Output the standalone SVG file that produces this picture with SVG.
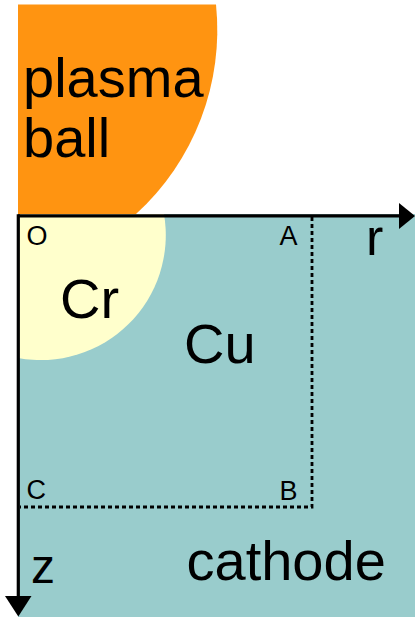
<svg xmlns="http://www.w3.org/2000/svg" width="415" height="617" viewBox="0 0 415 617">
<style>
.big{font-family:"Liberation Sans",Arial,sans-serif;font-size:56px;fill:#000}
.small{font-family:"Liberation Sans",Arial,sans-serif;font-size:27px;fill:#000}
.axis{stroke:#000;stroke-width:3.2;fill:none}
.dot{stroke:#000;stroke-width:2.8;stroke-dasharray:4 3;fill:none}
</style>
<rect width="415" height="617" fill="#fff"/>
<g id="plasma">
<path d="M18,4.5 L216,4.5 A249,249 0 0 1 136,214 L18,214 Z" fill="#FF9411"/>
<text class="big" x="23" y="96.5">plasma</text>
<text class="big" x="23" y="157">ball</text>
</g>
<g id="cathode">
<rect x="18" y="214" width="397" height="403" fill="#99CCCC"/>
<text class="big" x="186.5" y="580">cathode</text>
</g>
<g id="cr">
<path d="M18,214 L164,214 A125,125 0 0 1 18,358 Z" fill="#FFFFCC"/>
<text class="big" x="60" y="318">Cr</text>
</g>
<g id="cu">
<text class="big" x="184" y="363">Cu</text>
</g>
<g id="connectors">
<path class="dot" d="M312,217 L312,507 L20,507"/>
<line class="axis" x1="18" y1="215.8" x2="402" y2="215.8"/>
<polygon points="399,203 415,216 399,229" fill="#000"/>
<line class="axis" x1="18.3" y1="214.2" x2="18.3" y2="598"/>
<polygon points="5,596 31.5,596 18.3,616.5" fill="#000"/>
</g>
<g id="labels">
<text class="small" x="26.5" y="245">O</text>
<text class="small" x="279.5" y="245">A</text>
<text class="small" x="26.5" y="499">C</text>
<text class="small" x="279.5" y="500">B</text>
<text class="big" x="366" y="255" style="font-size:52px">r</text>
<text class="big" x="31" y="583" style="font-size:48px">z</text>
</g>
</svg>
